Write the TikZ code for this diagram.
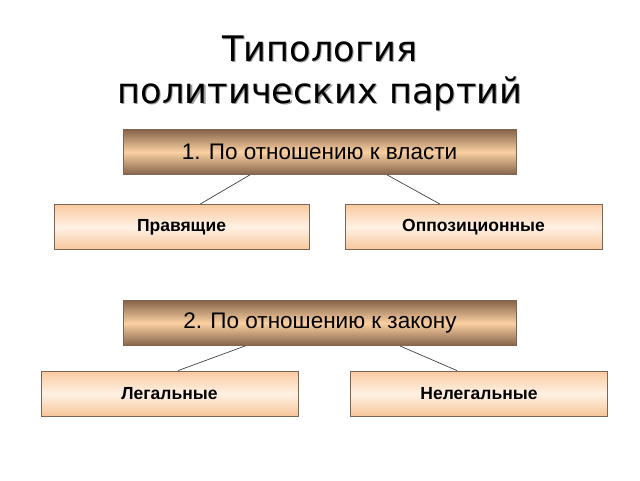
\documentclass[tikz,border=0pt]{standalone}
\usepackage{fontspec}
\setmainfont{Liberation Sans}
\newfontfamily\titlefont{DejaVu Sans}
\usetikzlibrary{calc}
\definecolor{darkb}{HTML}{86644A}
\definecolor{lightb}{HTML}{FAD0A2}
\definecolor{peach}{HTML}{FACAA0}
\definecolor{peachlt}{HTML}{FFF1E4}
\definecolor{edge}{HTML}{7B6654}
\definecolor{shad}{HTML}{A0A0A0}
\tikzset{
  headbox/.style={draw=edge, line width=0.9pt, top color=darkb, bottom color=darkb, middle color=lightb,
    minimum width=393pt, minimum height=45pt, inner sep=0pt, font=\fontsize{22.5}{26}\selectfont},
  leafbox/.style={draw=edge, line width=0.8pt, top color=peach, bottom color=peach!95!brown, middle color=peachlt,
    minimum width=257pt, minimum height=45pt, inner sep=0pt, font=\bfseries\fontsize{17.5}{20}\selectfont},
  link/.style={draw=black!75, line width=0.7pt},
  ttl/.style={font=\titlefont\fontsize{35.2}{42}\selectfont, align=center, inner sep=0pt}
}
\begin{document}
\begin{tikzpicture}[x=1pt,y=-1pt]
\useasboundingbox (0,0) rectangle (640,480);
\node[ttl, text=shad] (tshadow) at (321.2,74.7) {Типология\\политических партий};
\node[ttl] (title) at (320,73.5) {Типология\\политических партий};

\node[headbox] (h1) at (319.5,152) {1. По отношению к власти};
\node[leafbox, minimum width=255pt] (l1) at (181.5,227) {Правящие};
\node[leafbox] (r1) at (473.5,227) {Оппозиционные};

\node[headbox] (h2) at (320,323) {2. По отношению к закону};
\node[leafbox] (l2) at (169.5,393.5) {Легальные};
\node[leafbox] (r2) at (479,393.5) {Нелегальные};

\draw[link] ($(h1.south west)!0.323!(h1.south east)$) -- ($(l1.north west)!0.573!(l1.north east)$);
\draw[link] ($(h1.south west)!0.672!(h1.south east)$) -- ($(r1.north west)!0.37!(r1.north east)$);
\draw[link] ($(h2.south west)!0.31!(h2.south east)$) -- ($(l2.north west)!0.533!(l2.north east)$);
\draw[link] ($(h2.south west)!0.703!(h2.south east)$) -- ($(r2.north west)!0.415!(r2.north east)$);
\end{tikzpicture}
\end{document}
